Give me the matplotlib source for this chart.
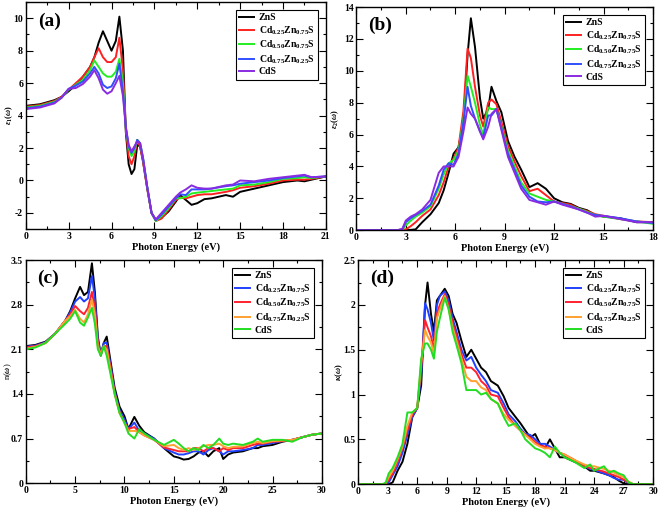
"""
    Optical spectra of Cd(x)Zn(1-x)S alloys: four-panel figure.
"""

import matplotlib
matplotlib.use('Agg')
import matplotlib.pyplot as plt
from matplotlib.ticker import AutoMinorLocator, MultipleLocator

plt.rcParams['font.family'] = ['Liberation Serif', 'DejaVu Serif']
plt.rcParams['font.weight'] = 'bold'
plt.rcParams['mathtext.fontset'] = 'custom'
plt.rcParams['mathtext.rm'] = 'Liberation Serif:bold'
plt.rcParams['mathtext.it'] = 'Liberation Serif:italic'
plt.rcParams['mathtext.bf'] = 'Liberation Serif:bold'

# ============================================================
# Data
# ============================================================

LABELS = ['ZnS',
          r'Cd$_{0.25}$Zn$_{0.75}$S',
          r'Cd$_{0.50}$Zn$_{0.75}$S',
          r'Cd$_{0.75}$Zn$_{0.25}$S',
          'CdS']

COLORS_TOP = ['black', '#ff2020', '#22ee22', '#3050ff', '#8a2be2']
COLORS_BOTTOM = ['black', '#2040ff', '#ff2030', '#ffa030', '#22dd22']

# (a) real part of dielectric function
E_a = [0, 1, 2, 2.5, 3, 3.5, 4, 4.5, 4.8, 5.1, 5.4, 5.7, 6.0, 6.3, 6.55, 6.8,
       7.0, 7.2, 7.4, 7.6, 7.8, 8.0, 8.2, 8.5, 8.8, 9.1, 9.5, 10, 10.5, 10.8,
       11.2, 11.6, 12, 12.5, 13, 14, 14.5, 15, 16, 17, 18, 19, 19.5, 20, 21]
eps1_zns = [4.6, 4.7, 4.95, 5.15, 5.5, 5.9, 6.4, 7.0, 7.6, 8.5, 9.2, 8.6, 8.0,
            8.6, 10.1, 8.0, 3.0, 1.0, 0.4, 0.7, 2.2, 2.1, 1.2, -0.5, -2.0,
            -2.45, -2.3, -1.9, -1.3, -0.9, -1.2, -1.5, -1.4, -1.15, -1.1, -0.9,
            -1.0, -0.7, -0.5, -0.3, -0.1, 0.0, -0.05, 0.05, 0.25]
eps1_x25 = [4.55, 4.65, 4.9, 5.15, 5.6, 6.0, 6.4, 7.0, 7.6, 8.15, 7.6, 7.3, 7.3,
            7.6, 8.8, 6.8, 3.2, 1.5, 1.0, 1.5, 2.5, 2.1, 1.2, -0.5, -2.0,
            -2.5, -2.35, -1.8, -1.2, -1.05, -1.1, -1.0, -0.9, -0.85, -0.85,
            -0.7, -0.6, -0.45, -0.35, -0.2, 0.0, 0.05, 0.05, 0.1, 0.25]
eps1_x50 = [4.5, 4.6, 4.85, 5.1, 5.6, 5.9, 6.2, 6.8, 7.4, 7.0, 6.6, 6.4, 6.4,
            6.7, 7.5, 6.0, 3.2, 2.0, 1.5, 1.8, 2.5, 2.3, 1.4, -0.4, -2.0,
            -2.5, -2.2, -1.7, -1.1, -1.1, -1.0, -0.8, -0.75, -0.7, -0.65,
            -0.55, -0.5, -0.3, -0.25, -0.1, 0.1, 0.15, 0.2, 0.15, 0.25]
eps1_x75 = [4.45, 4.55, 4.8, 5.1, 5.65, 5.85, 6.1, 6.6, 7.0, 6.6, 5.9, 5.7,
            5.8, 6.3, 7.2, 5.5, 3.3, 2.1, 1.7, 2.0, 2.5, 2.3, 1.4, -0.4, -2.0,
            -2.45, -2.1, -1.6, -1.1, -0.85, -0.9, -0.55, -0.55, -0.55, -0.5,
            -0.35, -0.3, -0.2, -0.1, 0.0, 0.15, 0.25, 0.3, 0.2, 0.25]
eps1_cds = [4.4, 4.5, 4.75, 5.1, 5.65, 5.7, 5.95, 6.4, 6.8, 6.3, 5.6, 5.35,
            5.5, 6.0, 6.45, 5.2, 3.3, 2.2, 1.8, 2.1, 2.4, 2.3, 1.4, -0.4, -2.0,
            -2.4, -2.0, -1.5, -1.0, -0.75, -0.55, -0.3, -0.45, -0.5, -0.5,
            -0.3, -0.25, 0.0, -0.05, 0.1, 0.2, 0.3, 0.35, 0.2, 0.25]

# (b) imaginary part of dielectric function
E_b = [0, 2.5, 2.8, 3.0, 3.3, 3.6, 4.0, 4.5, 5.0, 5.3, 5.6, 5.9, 6.2, 6.5,
       6.75, 6.95, 7.2, 7.5, 7.7, 8.0, 8.2, 8.5, 8.8, 9.2, 9.6, 10, 10.5, 11,
       11.5, 12, 12.5, 13, 13.5, 14, 14.5, 15, 16, 17, 18]
eps2_zns = [0, 0, 0, 0, 0.02, 0.05, 0.5, 1.0, 1.7, 2.5, 3.6, 4.8, 5.2, 6.8,
            11.0, 13.3, 11.5, 8.3, 7.0, 7.6, 9.0, 8.1, 7.4, 5.6, 4.6, 3.8, 2.7,
            2.95, 2.6, 2.0, 1.75, 1.65, 1.4, 1.25, 0.95, 0.85, 0.75, 0.5, 0.5]
eps2_x25 = [0, 0, 0, 0.05, 0.25, 0.5, 0.9, 1.3, 2.2, 3.0, 4.0, 4.5, 5.2, 7.5,
            11.4, 10.8, 9.0, 7.2, 6.5, 8.0, 8.2, 7.9, 6.8, 5.3, 4.3, 3.4, 2.45,
            2.6, 2.2, 1.8, 1.7, 1.6, 1.35, 1.2, 1.0, 0.9, 0.7, 0.55, 0.5]
eps2_x50 = [0, 0, 0.02, 0.3, 0.6, 0.85, 1.1, 1.5, 2.6, 3.5, 4.2, 4.4, 5.0, 7.0,
            9.7, 9.0, 8.0, 6.6, 6.0, 7.7, 7.6, 7.6, 6.5, 5.0, 4.0, 3.0, 2.3,
            2.1, 1.9, 1.8, 1.65, 1.5, 1.35, 1.15, 0.95, 0.85, 0.7, 0.55, 0.4]
eps2_x75 = [0, 0, 0.05, 0.5, 0.75, 0.95, 1.2, 1.6, 2.8, 3.8, 4.2, 4.1, 4.8,
            6.8, 9.0, 7.8, 7.0, 6.2, 5.8, 7.2, 7.2, 7.6, 6.4, 4.8, 3.8, 2.8,
            2.1, 1.8, 1.75, 1.8, 1.65, 1.5, 1.3, 1.1, 0.95, 0.9, 0.75, 0.55,
            0.45]
eps2_cds = [0, 0, 0.1, 0.6, 0.85, 1.0, 1.3, 1.9, 3.6, 4.0, 4.0, 4.0, 4.6, 6.2,
            7.7, 7.3, 7.0, 6.2, 5.7, 6.5, 7.3, 7.6, 6.3, 4.6, 3.6, 2.6, 1.9,
            1.75, 1.6, 1.8, 1.6, 1.45, 1.3, 1.1, 0.85, 0.9, 0.7, 0.5, 0.5]

# (c) refractive index
E_c = [0, 1, 2, 3, 4, 4.5, 5.0, 5.5, 5.9, 6.3, 6.7, 7.0, 7.3, 7.6, 7.9, 8.2,
       8.6, 9.0, 9.5, 10.0, 10.4, 11.0, 11.5, 12, 13, 14, 15, 15.5, 16, 16.5,
       17, 17.5, 18, 18.5, 19, 19.6, 20, 20.5, 21, 22, 23, 23.5, 24, 25, 26,
       27, 28, 29, 30]
n_zns = [2.15, 2.17, 2.22, 2.35, 2.55, 2.7, 2.9, 3.08, 2.95, 3.0, 3.45, 3.0,
         2.3, 2.0, 2.2, 2.3, 1.9, 1.5, 1.2, 1.05, 0.85, 1.04, 0.9, 0.8, 0.7,
         0.55, 0.42, 0.4, 0.37, 0.38, 0.42, 0.48, 0.5, 0.42, 0.5, 0.55, 0.38,
         0.45, 0.48, 0.5, 0.55, 0.55, 0.58, 0.6, 0.65, 0.68, 0.72, 0.76, 0.78]
n_x25 = [2.14, 2.16, 2.21, 2.35, 2.55, 2.68, 2.85, 2.92, 2.85, 2.9, 3.25, 2.9,
         2.25, 2.02, 2.2, 2.2, 1.85, 1.45, 1.15, 1.0, 0.85, 0.95, 0.82, 0.78,
         0.7, 0.55, 0.48, 0.45, 0.45, 0.47, 0.5, 0.5, 0.45, 0.52, 0.55, 0.5,
         0.45, 0.5, 0.5, 0.52, 0.55, 0.6, 0.6, 0.63, 0.66, 0.68, 0.72, 0.76,
         0.78]
n_x50 = [2.13, 2.15, 2.2, 2.35, 2.55, 2.65, 2.78, 2.7, 2.65, 2.75, 3.0, 2.75,
         2.2, 2.02, 2.15, 2.15, 1.8, 1.42, 1.12, 0.95, 0.85, 0.88, 0.8, 0.75,
         0.68, 0.56, 0.52, 0.5, 0.5, 0.5, 0.55, 0.55, 0.5, 0.55, 0.55, 0.5,
         0.55, 0.52, 0.55, 0.55, 0.6, 0.62, 0.62, 0.65, 0.66, 0.68, 0.72, 0.76,
         0.78]
n_x75 = [2.11, 2.14, 2.2, 2.35, 2.55, 2.62, 2.72, 2.58, 2.52, 2.65, 2.88, 2.65,
         2.15, 2.02, 2.15, 2.1, 1.75, 1.4, 1.1, 0.95, 0.82, 0.82, 0.8, 0.75,
         0.68, 0.58, 0.6, 0.55, 0.52, 0.55, 0.52, 0.55, 0.58, 0.6, 0.6, 0.62,
         0.58, 0.55, 0.57, 0.58, 0.63, 0.65, 0.63, 0.66, 0.67, 0.68, 0.72,
         0.76, 0.78]
n_cds = [2.1, 2.13, 2.2, 2.35, 2.5, 2.58, 2.7, 2.52, 2.47, 2.6, 2.75, 2.5, 2.1,
         2.0, 2.15, 2.0, 1.7, 1.4, 1.1, 0.95, 0.78, 0.7, 0.85, 0.78, 0.68, 0.6,
         0.68, 0.62, 0.55, 0.5, 0.55, 0.52, 0.6, 0.55, 0.6, 0.7, 0.62, 0.6,
         0.62, 0.6, 0.65, 0.7, 0.65, 0.68, 0.68, 0.65, 0.72, 0.76, 0.78]

# (d) extinction coefficient
E_d = [0, 2.5, 2.8, 3.1, 3.5, 4.0, 4.5, 5.0, 5.5, 6.0, 6.4, 6.8, 7.05, 7.4,
       7.7, 8.0, 8.3, 8.8, 9.2, 9.6, 10, 10.5, 11, 11.5, 12, 12.5, 13, 13.5,
       14.2, 14.8, 15.3, 16, 16.5, 17, 17.5, 18, 18.5, 19, 19.5, 20, 20.5, 21,
       22, 23, 23.6, 24, 25, 25.5, 26, 26.5, 27, 27.5, 28, 30]
k_zns = [0, 0, 0, 0, 0.02, 0.15, 0.25, 0.45, 0.75, 0.85, 1.1, 2.0, 2.25, 1.9,
         1.7, 2.05, 2.1, 2.18, 2.1, 1.9, 1.8, 1.6, 1.42, 1.5, 1.4, 1.3, 1.25,
         1.15, 1.1, 0.98, 0.85, 0.75, 0.68, 0.6, 0.52, 0.56, 0.45, 0.4, 0.5,
         0.4, 0.3, 0.3, 0.25, 0.2, 0.15, 0.15, 0.12, 0.1, 0.08, 0.04, 0.01, 0,
         0, 0]
k_x25 = [0, 0, 0, 0.02, 0.1, 0.2, 0.35, 0.55, 0.75, 0.85, 1.2, 2.02, 1.95, 1.8,
         1.6, 2.0, 2.1, 2.15, 2.05, 1.85, 1.7, 1.5, 1.38, 1.42, 1.3, 1.22,
         1.15, 1.05, 1.02, 0.9, 0.78, 0.7, 0.62, 0.56, 0.55, 0.5, 0.45, 0.45,
         0.42, 0.38, 0.35, 0.32, 0.26, 0.2, 0.17, 0.16, 0.12, 0.1, 0.07, 0.05,
         0.05, 0.01, 0, 0]
k_x50 = [0, 0, 0, 0.05, 0.12, 0.25, 0.4, 0.6, 0.78, 0.85, 1.3, 1.83, 1.75,
         1.65, 1.5, 1.9, 2.0, 2.12, 2.0, 1.8, 1.65, 1.45, 1.3, 1.3, 1.25, 1.15,
         1.1, 1.0, 0.98, 0.85, 0.75, 0.65, 0.6, 0.55, 0.52, 0.47, 0.43, 0.42,
         0.4, 0.38, 0.35, 0.33, 0.27, 0.2, 0.18, 0.17, 0.14, 0.12, 0.1, 0.08,
         0.05, 0.02, 0, 0]
k_x75 = [0, 0, 0.01, 0.08, 0.15, 0.28, 0.42, 0.65, 0.8, 0.85, 1.35, 1.72, 1.65,
         1.58, 1.45, 1.85, 1.95, 2.1, 1.95, 1.75, 1.6, 1.4, 1.2, 1.15, 1.15,
         1.08, 1.05, 0.95, 0.9, 0.78, 0.72, 0.65, 0.6, 0.55, 0.5, 0.45, 0.42,
         0.4, 0.4, 0.38, 0.35, 0.33, 0.27, 0.22, 0.2, 0.2, 0.17, 0.15, 0.13,
         0.1, 0.08, 0.03, 0, 0]
k_cds = [0, 0, 0.02, 0.12, 0.18, 0.3, 0.45, 0.8, 0.8, 0.85, 1.4, 1.57, 1.57,
         1.5, 1.4, 1.7, 1.85, 2.08, 1.95, 1.7, 1.55, 1.35, 1.05, 1.05, 1.05,
         1.0, 1.02, 0.95, 0.9, 0.75, 0.65, 0.68, 0.6, 0.5, 0.45, 0.4, 0.38,
         0.35, 0.3, 0.42, 0.35, 0.3, 0.25, 0.18, 0.22, 0.15, 0.2, 0.13, 0.15,
         0.12, 0.1, 0.02, 0, 0]


def draw_panel(ax, energy, series, colors, tag, ylabel, xlim, xstep,
               ylim, yticks, label_x):
    """Draw one spectrum panel in xmgrace-like style."""
    for values, color, label in zip(series, colors, LABELS):
        ax.plot(energy, values, color=color, lw=1.4, label=label)

    ax.set_xlim(*xlim)
    ax.set_ylim(*ylim)
    ax.xaxis.set_major_locator(MultipleLocator(xstep))
    ax.set_yticks(yticks)
    ax.set_yticklabels([f'{t:g}' for t in yticks])
    ax.xaxis.set_minor_locator(AutoMinorLocator(2))
    ax.yaxis.set_minor_locator(AutoMinorLocator(2))
    ax.tick_params(which='both', direction='in', top=True, right=True,
                   labelsize=7, pad=2)
    ax.tick_params(which='major', length=5, width=0.8)
    ax.tick_params(which='minor', length=2.5, width=0.8)
    for lab in ax.get_xticklabels() + ax.get_yticklabels():
        lab.set_fontweight('bold')
    for spine in ax.spines.values():
        spine.set_linewidth(1.0)

    ax.set_xlabel('Photon Energy (eV)', fontsize=7.5, fontweight='bold',
                  labelpad=1)
    ax.set_ylabel(ylabel, fontsize=6)
    ax.yaxis.label.set_verticalalignment('center')
    ax.yaxis.set_label_coords(label_x, 0.5)
    ax.text(0.04, 0.955, tag, transform=ax.transAxes, fontsize=14,
            fontweight='bold', va='top', ha='left')

    leg = ax.legend(loc='upper right', fontsize=7, handlelength=1.5,
                    handletextpad=0.5, labelspacing=0.2, borderpad=0.35,
                    borderaxespad=0.8, fancybox=False, framealpha=1)
    leg.get_frame().set_edgecolor('black')
    leg.get_frame().set_linewidth(0.8)
    for text in leg.get_texts():
        text.set_fontweight('bold')


fig = plt.figure(figsize=(6.61, 5.07), dpi=100)

ax_a = fig.add_axes([0.039, 0.548, 0.454, 0.448])
ax_b = fig.add_axes([0.539, 0.546, 0.449, 0.440])
ax_c = fig.add_axes([0.039, 0.047, 0.448, 0.440])
ax_d = fig.add_axes([0.542, 0.045, 0.446, 0.442])

draw_panel(ax_a, E_a, [eps1_zns, eps1_x25, eps1_x50, eps1_x75, eps1_cds],
           COLORS_TOP, '(a)', r'$\varepsilon_1(\omega)$', (0, 21), 3,
           (-3, 11), [-2, 0, 2, 4, 6, 8, 10], -0.055)
draw_panel(ax_b, E_b, [eps2_zns, eps2_x25, eps2_x50, eps2_x75, eps2_cds],
           COLORS_TOP, '(b)', r'$\varepsilon_2(\omega)$', (0, 18), 3,
           (0, 14), [0, 2, 4, 6, 8, 10, 12, 14], -0.072)
draw_panel(ax_c, E_c, [n_zns, n_x25, n_x50, n_x75, n_cds],
           COLORS_BOTTOM, '(c)', r'n($\omega$)', (0, 30), 5,
           (0, 3.5), [0, 0.7, 1.4, 2.1, 2.8, 3.5], -0.058)
draw_panel(ax_d, E_d, [k_zns, k_x25, k_x50, k_x75, k_cds],
           COLORS_BOTTOM, '(d)', r'$\kappa(\omega)$', (0, 30), 3,
           (0, 2.5), [0, 0.5, 1, 1.5, 2, 2.5], -0.066)

fig.savefig('out.png', dpi=100)
plt.close(fig)
